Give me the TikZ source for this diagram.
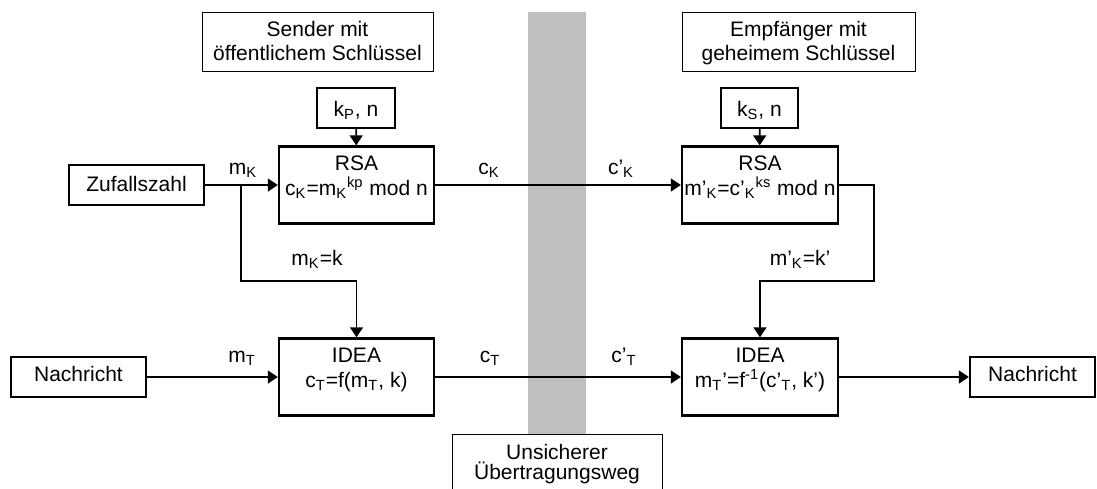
\documentclass[tikz,border=0pt]{standalone}
\usepackage{fontspec}
\setmainfont{Liberation Sans}
\usetikzlibrary{arrows.meta}

\begin{document}
\begin{tikzpicture}[x=0.5pt, y=-0.5pt,
  font=\fontsize{10.5}{12}\selectfont,
  blk/.style={draw, line width=1.2pt, inner sep=0pt},
  thinbox/.style={draw, line width=0.5pt, inner sep=0pt},
  txt/.style={inner sep=0pt, anchor=base},
  conn/.style={line width=0.85pt},
  arr/.style={conn, -{Triangle[length=5pt,width=6.5pt]}},
]
\clip (0,0) rectangle (1097,488);
\fill[white] (0,0) rectangle (1097,488);

% insecure channel band
\fill[black!25] (528,12) rectangle (586,434);

% header boxes
\node[thinbox, minimum width=115.5pt, minimum height=29.5pt] (sender) at (317.5,41.5) {};
\node[txt] (senderA) at (317.5,36) {Sender mit};
\node[txt] (senderB) at (317.5,60) {öffentlichem Schlüssel};

\node[thinbox, minimum width=116.5pt, minimum height=29.5pt] (empf) at (798.5,41.5) {};
\node[txt] (empfA) at (798.5,36) {Empfänger mit};
\node[txt] (empfB) at (798.5,60) {geheimem Schlüssel};

% key boxes
\node[blk, minimum width=39pt, minimum height=20pt] (kp) at (356,108) {};
\node[txt] (kpT) at (356,116) {k\textsubscript{P}, n};
\node[blk, minimum width=38.5pt, minimum height=20pt] (ks) at (759.5,108) {};
\node[txt] (ksT) at (759.5,116) {k\textsubscript{S}, n};

% RSA blocks
\node[blk, minimum width=77.5pt, minimum height=38.5pt] (rsa) at (356.5,185) {};
\node[txt] (rsaA) at (356.5,170) {RSA};
\node[txt] (rsaB) at (356.5,195) {c\textsubscript{K}=m\textsubscript{K}\textsuperscript{kp} mod n};

\node[blk, minimum width=78pt, minimum height=38.5pt] (rsa2) at (760,185) {};
\node[txt] (rsa2A) at (760,170) {RSA};
\node[txt] (rsa2B) at (760,195) {m’\textsubscript{K}=c’\textsubscript{K}\textsuperscript{ks} mod n};

% IDEA blocks
\node[blk, minimum width=77.5pt, minimum height=38.5pt] (idea) at (356.5,377) {};
\node[txt] (ideaA) at (356.5,362) {IDEA};
\node[txt] (ideaB) at (356.5,387) {c\textsubscript{T}=f(m\textsubscript{T}, k)};

\node[blk, minimum width=78pt, minimum height=38.5pt] (idea2) at (760,377) {};
\node[txt] (idea2A) at (760,362) {IDEA};
\node[txt] (idea2B) at (760,387) {m\textsubscript{T}’=f\textsuperscript{-1}(c’\textsubscript{T}, k’)};

% sources and sink
\node[blk, minimum width=67.5pt, minimum height=20pt] (zuf) at (136.5,185) {};
\node[txt] (zufT) at (136.5,191) {Zufallszahl};
\node[blk, minimum width=67.5pt, minimum height=20pt] (nach) at (78.5,377) {};
\node[txt] (nachT) at (78.5,381.5) {Nachricht};
\node[blk, minimum width=62.5pt, minimum height=20pt] (nach2) at (1032.5,377) {};
\node[txt] (nach2T) at (1032.5,381.5) {Nachricht};

% channel caption (runs off the lower edge)
\node[thinbox, minimum width=105pt, minimum height=40pt, anchor=north] (chan) at (557,434) {};
\node[txt] (chanA) at (557,459) {Unsicherer};
\node[txt] (chanB) at (557,479) {Übertragungsweg};

% connectors
\coordinate (br) at (241,185);
\coordinate (bend1) at (356.5,281);
\coordinate (turn2) at (874,281);

\draw[arr] (kp) -- (rsa);
\draw[arr] (ks) -- (rsa2);
\draw[arr] (zuf) -- (rsa);
\draw[arr] (br) |- (bend1) -- (idea.north);
\draw[arr] (rsa) -- (rsa2);
\draw[arr] (rsa2.east) -| (turn2) -| (idea2.north);
\draw[arr] (nach) -- (idea);
\draw[arr] (idea) -- (idea2);
\draw[arr] (idea2) -- (nach2);

% connector labels
\node[txt] (lmk) at (243,174) {m\textsubscript{K}};
\node[txt] (lck) at (489,174) {c\textsubscript{K}};
\node[txt] (lck2) at (621,174) {c’\textsubscript{K}};
\node[txt] (lmkk) at (317,265) {m\textsubscript{K}=k};
\node[txt] (lmkk2) at (800,265) {m’\textsubscript{K}=k’};
\node[txt] (lmt) at (242,362) {m\textsubscript{T}};
\node[txt] (lct) at (490,362) {c\textsubscript{T}};
\node[txt] (lct2) at (624,362) {c’\textsubscript{T}};
\end{tikzpicture}
\end{document}
